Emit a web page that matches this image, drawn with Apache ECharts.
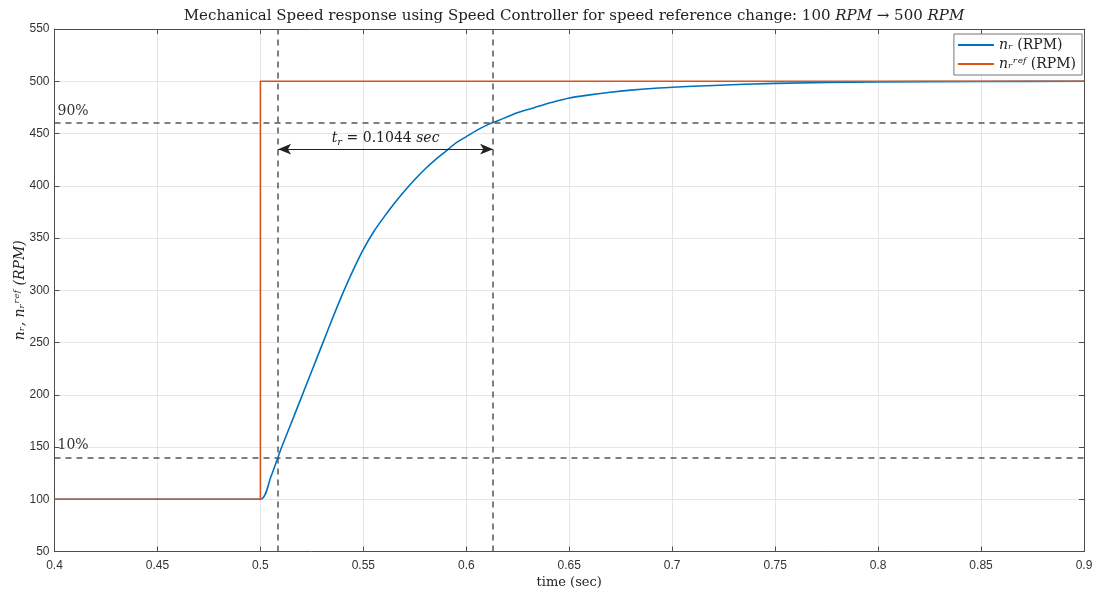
<!DOCTYPE html>
<html>
<head>
<meta charset="utf-8">
<script src="https://cdn.jsdelivr.net/npm/echarts@6/dist/echarts.min.js"></script>
<style>
  html, body { margin: 0; padding: 0; background: #fff; }
  #chart { width: 1094px; height: 591px; }
</style>
</head>
<body>
<div id="chart"></div>
<script>
// Simulated mechanical speed n_r (RPM) vs time (s), 5 ms samples through the transient
const timeSec = [0.4, 0.5, 0.505, 0.510, 0.515, 0.520, 0.525, 0.530, 0.535,
  0.540, 0.545, 0.550, 0.555, 0.560, 0.565, 0.570, 0.575, 0.580, 0.585, 0.590, 0.595,
  0.600, 0.605, 0.610, 0.615, 0.620, 0.625, 0.630, 0.635, 0.640, 0.645, 0.650,
  0.660, 0.670, 0.680, 0.690, 0.700, 0.720, 0.750, 0.800, 0.850, 0.900];
const speedRpm = [100, 100, 121, 148, 173, 198, 223, 248, 273,
  297, 319, 339, 356, 370, 383, 395, 406, 416, 425, 433, 441,
  447, 453, 458, 462, 466, 470, 473, 476, 479, 481.5, 484,
  487, 489.5, 491.5, 493, 494.3, 496, 498, 499.4, 499.8, 500];

// Speed reference step: 100 RPM -> 500 RPM at t = 0.5 s
const refTime = [0.4, 0.5, 0.5, 0.9];
const refRpm = [100, 100, 500, 500];

// Rise-time markers
const level10 = 140;
const level90 = 460;
const t10 = 0.5086;
const t90 = 0.613;
const riseTime = 0.1044;
const arrowLevel = 435;

const xTicks = { min: 0.4, max: 0.9, interval: 0.05 };
const yTicks = { min: 50, max: 550, interval: 50 };

const zip = (a, b) => a.map((v, i) => [v, b[i]]);

const serif = 'DejaVu Serif';
const sans = 'Liberation Sans';
const axisColor = '#4d4d4d';
const gridColor = '#e5e5e5';
const dashColor = '#555555';

const chart = echarts.init(document.getElementById('chart'), null, { renderer: 'canvas' });

const baseX = {
  type: 'value', min: xTicks.min, max: xTicks.max, interval: xTicks.interval,
  axisLine: { show: true, onZero: false, lineStyle: { color: axisColor, width: 1 } },
  axisTick: { show: true, inside: true, length: 5, lineStyle: { color: axisColor } },
};
const baseY = {
  type: 'value', min: yTicks.min, max: yTicks.max, interval: yTicks.interval,
  axisLine: { show: true, onZero: false, lineStyle: { color: axisColor, width: 1 } },
  axisTick: { show: true, inside: true, length: 5, lineStyle: { color: axisColor } },
};

const legendRich = {
  i: { fontFamily: serif, fontStyle: 'italic', fontSize: 14, color: '#222' },
  n: { fontFamily: serif, fontSize: 14, color: '#222' }
};

chart.setOption({
  animation: false,
  backgroundColor: '#ffffff',
  title: {
    text: 'Mechanical Speed response using Speed Controller for speed reference change: 100 {i|RPM} \u2192 500 {i|RPM}',
    left: 569, top: 4, textAlign: 'center',
    textStyle: {
      fontFamily: serif, fontSize: 15, fontWeight: 'normal', color: '#222',
      rich: { i: { fontFamily: serif, fontStyle: 'italic', fontSize: 15, color: '#222' } }
    }
  },
  legend: {
    orient: 'vertical', right: 12, top: 34,
    backgroundColor: '#fff', borderColor: '#777', borderWidth: 1,
    padding: [4, 6, 4, 4], itemGap: 5, itemWidth: 36, itemHeight: 2,
    textStyle: { fontFamily: serif, fontSize: 14, color: '#222', rich: legendRich },
    formatter: name => name.replace(/^n(\S*)\s(.*)$/, '{i|n$1} {n|$2}'),
    data: [
      { name: 'n\u1D63 (RPM)', icon: 'rect' },
      { name: 'n\u1D63\u02B3\u1D49\u1DA0 (RPM)', icon: 'rect' }
    ]
  },
  grid: { left: 54.5, right: 10, top: 29, bottom: 39.5, containLabel: false, outerBoundsMode: 'none' },
  xAxis: [
    Object.assign({}, baseX, {
      position: 'bottom',
      name: 'time (sec)', nameLocation: 'middle', nameGap: 22,
      nameTextStyle: { fontFamily: serif, fontSize: 13, color: '#222' },
      axisLabel: { show: true, fontFamily: sans, fontSize: 12, color: '#333', margin: 8,
        formatter: v => String(+v.toFixed(2)) },
      splitLine: { show: true, lineStyle: { color: gridColor, width: 1 } }
    }),
    Object.assign({}, baseX, {
      position: 'top',
      axisLabel: { show: false },
      splitLine: { show: false }
    })
  ],
  yAxis: [
    Object.assign({}, baseY, {
      position: 'left',
      name: 'n\u1D63, n\u1D63\u02B3\u1D49\u1DA0 (RPM)', nameLocation: 'middle', nameGap: 27, nameRotate: 90,
      nameMoveOverlap: false,
      nameTextStyle: { fontFamily: serif, fontStyle: 'italic', fontSize: 14, color: '#222' },
      axisLabel: { show: true, fontFamily: sans, fontSize: 12, color: '#333', margin: 5 },
      splitLine: { show: true, lineStyle: { color: gridColor, width: 1 } }
    }),
    Object.assign({}, baseY, {
      position: 'right',
      axisLabel: { show: false },
      splitLine: { show: false }
    })
  ],
  series: [
    {
      name: 'n\u1D63 (RPM)', type: 'line', data: zip(timeSec, speedRpm),
      showSymbol: false, symbol: 'none', smooth: 0.25, z: 3,
      lineStyle: { color: '#0072BD', width: 1.6 }, itemStyle: { color: '#0072BD' }
    },
    {
      name: 'n\u1D63\u02B3\u1D49\u1DA0 (RPM)', type: 'line', data: zip(refTime, refRpm),
      showSymbol: false, symbol: 'none', z: 4,
      lineStyle: { color: '#D95319', width: 1.6 }, itemStyle: { color: '#D95319' }
    },
    {
      // Rise-time guides: 10%/90% levels and their crossing times
      type: 'line', data: [], silent: true, z: 5,
      markLine: {
        silent: true, symbol: ['none', 'none'], animation: false, precision: 4,
        lineStyle: { color: dashColor, type: [6, 5], width: 1.5 },
        label: { show: false },
        data: [
          { yAxis: level90, label: { show: true, formatter: '90%', position: 'insideStartTop',
              distance: [3, 5], fontFamily: serif, fontSize: 14, color: '#333' } },
          { yAxis: level10, label: { show: true, formatter: '10%', position: 'insideStartTop',
              distance: [3, 5], fontFamily: serif, fontSize: 14, color: '#333' } },
          { xAxis: t10 },
          { xAxis: t90 }
        ]
      }
    },
    {
      // Double-headed arrow spanning the rise time
      type: 'line', data: [], silent: true, z: 6,
      markLine: {
        silent: true, animation: false, precision: 4,
        symbol: ['arrow', 'arrow'], symbolSize: [8, 13],
        lineStyle: { color: '#222', type: 'solid', width: 1 },
        data: [[
          { coord: [t10, arrowLevel],
            label: { show: true, position: 'middle', distance: 2,
              formatter: '{i|t}{s|r} = ' + riseTime.toFixed(4) + ' {i|sec}',
              fontFamily: serif, fontSize: 14, color: '#222',
              rich: {
                i: { fontFamily: serif, fontStyle: 'italic', fontSize: 14, color: '#222' },
                s: { fontFamily: serif, fontStyle: 'italic', fontSize: 10, color: '#222', padding: [8, 0, 0, 0] }
              } } },
          { coord: [t90, arrowLevel] }
        ]]
      }
    }
  ]
});
</script>
</body>
</html>
